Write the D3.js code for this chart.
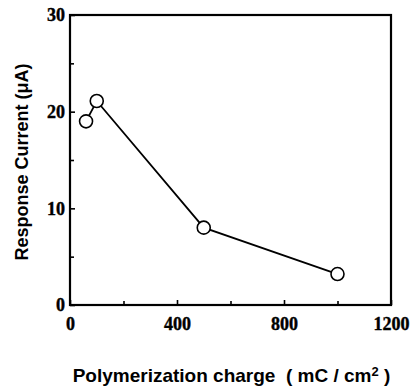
<!DOCTYPE html>
<html>
<head>
<meta charset="utf-8">
<script src="https://cdn.jsdelivr.net/npm/d3@7"></script>
<style>
  html, body { margin: 0; padding: 0; background: #fff; }
  svg { display: block; }
</style>
</head>
<body>
<svg id="chart" width="410" height="387"></svg>
<script>
// Polymerization charge (mC/cm²) vs. response current (µA)
const charge = [60, 100, 500, 1000];
const current = [19.0, 21.1, 8.0, 3.2];
const xTicks = [0, 400, 800, 1200];
const xMinorTicks = [200, 600, 1000];
const yTicks = [0, 10, 20, 30];
const yMinorTicks = [5, 15, 25];

const svg = d3.select("#chart");
const m = { left: 70, right: 19, top: 15, bottom: 82 };
const W = 410, H = 387;

const x = d3.scaleLinear().domain([0, 1200]).range([m.left, W - m.right]);
const y = d3.scaleLinear().domain([0, 30]).range([H - m.bottom, m.top]);

const serif = "'Liberation Serif', 'Times New Roman', Times, serif";
const sans = "'Liberation Sans', Arial, sans-serif";

// inward ticks along bottom and left
const xAxis = d3.axisBottom(x).tickValues(xTicks).tickSize(-5).tickPadding(12).tickFormat(d3.format("d"));
const xMinor = d3.axisBottom(x).tickValues(xMinorTicks).tickSize(-4).tickFormat("");
const yAxis = d3.axisLeft(y).tickValues(yTicks).tickSize(-5).tickPadding(5).tickFormat(d3.format("d"));
const yMinor = d3.axisLeft(y).tickValues(yMinorTicks).tickSize(-4).tickFormat("");

function styleAxis(g) {
  g.attr("font-family", serif).attr("font-size", 18).attr("font-weight", "bold");
  g.select(".domain").remove();
  g.selectAll(".tick line").attr("stroke", "#000").attr("stroke-width", 1.6);
  g.selectAll(".tick text")
    .attr("fill", "#000")
    .attr("stroke", "#000")
    .attr("stroke-width", 0.4)
    .attr("font-family", serif)
    .attr("font-weight", "bold")
    .attr("font-size", 18);
}

svg.append("g").attr("transform", `translate(0,${y(0)})`).call(xAxis).call(styleAxis);
svg.append("g").attr("transform", `translate(0,${y(0)})`).call(xMinor).call(styleAxis);
svg.append("g").attr("transform", `translate(${x(0)},0)`).call(yAxis).call(styleAxis);
svg.append("g").attr("transform", `translate(${x(0)},0)`).call(yMinor).call(styleAxis);

// frame
svg.append("rect")
  .attr("x", x(0)).attr("y", y(30))
  .attr("width", x(1200) - x(0)).attr("height", y(0) - y(30))
  .attr("fill", "none").attr("stroke", "#000").attr("stroke-width", 2.2);

// data line
const line = d3.line().x((d, i) => x(charge[i])).y(d => y(d));
svg.append("path")
  .datum(current)
  .attr("d", line)
  .attr("fill", "none")
  .attr("stroke", "#000")
  .attr("stroke-width", 1.8);

// open circle markers
svg.selectAll("circle.pt")
  .data(current)
  .join("circle")
  .attr("class", "pt")
  .attr("cx", (d, i) => x(charge[i]))
  .attr("cy", d => y(d))
  .attr("r", 6.5)
  .attr("fill", "#fff")
  .attr("stroke", "#000")
  .attr("stroke-width", 1.6);

// axis titles
const xTitle = svg.append("text")
  .attr("x", (x(0) + x(1200)) / 2 + 1)
  .attr("y", 382)
  .attr("text-anchor", "middle")
  .style("white-space", "pre")
  .style("font-family", sans)
  .style("font-weight", "bold")
  .style("font-size", "19px")
  .attr("fill", "#000");
xTitle.append("tspan").text("Polymerization charge  ( mC / cm");
xTitle.append("tspan").attr("dy", -6).style("font-size", "13px").text("2");
xTitle.append("tspan").attr("dy", 6).text(" )");

svg.append("text")
  .attr("transform", `translate(28,${(y(0) + y(30)) / 2 + 2}) rotate(-90)`)
  .attr("text-anchor", "middle")
  .style("font-family", sans)
  .style("font-weight", "bold")
  .style("font-size", "18px")
  .attr("fill", "#000")
  .text("Response Current (\u03bcA)");
</script>
</body>
</html>
